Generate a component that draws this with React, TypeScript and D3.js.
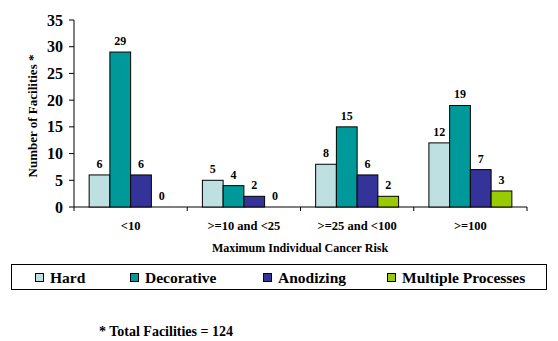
import React from "react";
import * as d3 from "d3";

const categories = ["<10", ">=10 and <25", ">=25 and <100", ">=100"];
const seriesNames = ["Hard", "Decorative", "Anodizing", "Multiple Processes"];
const hard = [6, 5, 8, 12];
const decorative = [29, 4, 15, 19];
const anodizing = [6, 2, 6, 7];
const multiple = [0, 0, 2, 3];
const yTicks = [0, 5, 10, 15, 20, 25, 30, 35];
const colors = ["#BFE0E0", "#009999", "#333399", "#99CC00"];
const legendX = [35, 130, 263, 387];

const FONT = "Liberation Serif";

const T = (props: any) => <text fontFamily={FONT} fontWeight="bold" fill="#000" {...props} />;

const App = () => {
  const width = 558;
  const height = 341;
  const series = [hard, decorative, anodizing, multiple];

  const x = d3.scaleBand().domain(categories).range([74, 527]).paddingInner(0).paddingOuter(0);
  const xSub = d3
    .scaleBand()
    .domain(seriesNames)
    .range([0, x.bandwidth()])
    .paddingInner(0)
    .paddingOuter(0.73);
  const y = d3.scaleLinear().domain([0, 35]).range([207, 20]);
  const bounds = categories.map((c) => x(c) as number).concat([x.range()[1]]);

  return (
    <div style={{ position: "absolute", left: 0, top: 0 }}>
      <svg width={width} height={height} style={{ display: "block", background: "#fff" }}>
        {/* y axis */}
        <g transform="translate(74,0)">
          <line x1={0} x2={0} y1={y(0)} y2={y(35)} stroke="#000" />
          {yTicks.map((t) => (
            <g key={t}>
              <line x1={-5} x2={0} y1={y(t)} y2={y(t)} stroke="#000" />
              <T x={-11} y={y(t)} dy="0.35em" textAnchor="end" fontSize={16}>
                {t}
              </T>
            </g>
          ))}
        </g>

        {/* x axis */}
        <g>
          <line x1={74} x2={527} y1={y(0)} y2={y(0)} stroke="#000" />
          {bounds.map((b, i) => (
            <line key={i} x1={b} x2={b} y1={y(0)} y2={y(0) + 4} stroke="#000" />
          ))}
          {categories.map((c) => (
            <T key={c} x={(x(c) as number) + x.bandwidth() / 2} y={226} dy="0.35em" textAnchor="middle" fontSize={12.5}>
              {c}
            </T>
          ))}
        </g>

        {/* bars */}
        {series.map((vals, si) => (
          <g key={seriesNames[si]}>
            {vals.map((v, ci) => {
              const bx = (x(categories[ci]) as number) + (xSub(seriesNames[si]) as number);
              return (
                <g key={ci}>
                  {v > 0 && (
                    <rect
                      x={bx}
                      y={y(v)}
                      width={xSub.bandwidth()}
                      height={y(0) - y(v)}
                      fill={colors[si]}
                      stroke="#000"
                    />
                  )}
                  <T x={bx + xSub.bandwidth() / 2} y={y(v) - 7} textAnchor="middle" fontSize={12}>
                    {v}
                  </T>
                </g>
              );
            })}
          </g>
        ))}

        {/* axis titles */}
        <T x={300} y={248} dy="0.35em" textAnchor="middle" fontSize={12}>
          Maximum Individual Cancer Risk
        </T>
        <T transform="translate(32,116) rotate(-90)" dy="0.35em" textAnchor="middle" fontSize={13}>
          Number of Facilities *
        </T>

        {/* legend */}
        <g>
          <rect x={11.5} y={264.5} width={535} height={25} fill="#fff" stroke="#000" />
          {seriesNames.map((s, i) => (
            <g key={s}>
              <rect x={legendX[i] + 0.5} y={273.5} width={8} height={8} fill={colors[i]} stroke="#000" />
              <T x={legendX[i] + 15} y={277.5} dy="0.35em" fontSize={15.5}>
                {s}
              </T>
            </g>
          ))}
        </g>

        {/* footnote */}
        <T x={99} y={331} dy="0.35em" fontSize={14}>
          * Total Facilities = 124
        </T>
      </svg>
    </div>
  );
};

export default App;
